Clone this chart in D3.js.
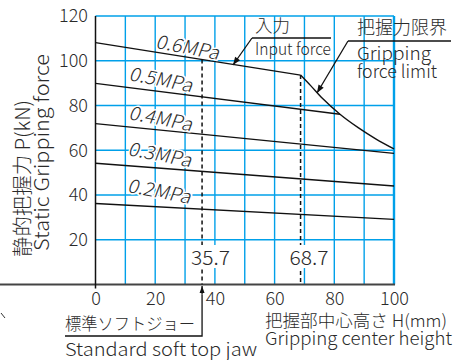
<!DOCTYPE html>
<html><head><meta charset="utf-8">
<script src="https://cdn.jsdelivr.net/npm/d3@7"></script>
<style>
body{margin:0;background:#fff}
svg{display:block}
text{font-family:"Noto Sans CJK JP","Liberation Sans",sans-serif;font-weight:300;fill:#2a2a2a}
</style>
</head><body><svg id="c" width="465" height="360"></svg>
<script>
// ---- data ----
const xTicks=[0,20,40,60,80,100];
const yTicks=[20,40,60,80,100,120];
const gridX=[10,20,30,40,50,60,70,80,90,100];
const gridY=[20,40,60,80,100,120];
const pressureLabels=["0.6MPa","0.5MPa","0.4MPa","0.3MPa","0.2MPa"];
const series06=[[0,108.1],[68.7,93.6]];
const series05=[[0,89.9],[81.9,76.1]];
const series04=[[0,71.9],[100,58.6]];
const series03=[[0,54.2],[100,44.0]];
const series02=[[0,36.2],[100,29.1]];
const limitCurve=[[68.7,93.6],[72,89.0],[76,83.2],[81.9,76.1],[88,70.1],[94,65.0],[100,60.6]];
const markerH=[35.7,68.7];
const markerText=["35.7","68.7"];

// ---- layout ----
const svg=d3.select("#c");
const x=d3.scaleLinear().domain([0,100]).range([95.5,394]);
const y=d3.scaleLinear().domain([0,120]).range([284.5,16]);
const blue="#00a0e9";
const allSeries=[series06,series05,series04,series03,series02];

function valueAt(s,h){
  for(let i=0;i<s.length-1;i++){
    const [a,va]=s[i],[b,vb]=s[i+1];
    if(h>=a&&h<=b) return va+(vb-va)*(h-a)/(b-a);
  }
  return s[s.length-1][1];
}
function arrow(g,x1,y1,x2,y2,len=8,wid=3){
  g.append("line").attr("x1",x1).attr("y1",y1).attr("x2",x2).attr("y2",y2)
    .attr("stroke","#111").attr("stroke-width",1.3);
  const ang=Math.atan2(y2-y1,x2-x1);
  const bx=x2-len*Math.cos(ang), by=y2-len*Math.sin(ang);
  const px=-Math.sin(ang)*wid, py=Math.cos(ang)*wid;
  g.append("path").attr("d",`M${x2},${y2}L${bx+px},${by+py}L${bx-px},${by-py}Z`).attr("fill","#111");
}

// grid
svg.append("g").selectAll("line").data(gridX).join("line")
  .attr("x1",d=>x(d)).attr("x2",d=>x(d)).attr("y1",y(0)).attr("y2",y(120))
  .attr("stroke",blue).attr("stroke-width",d=>d===100?2.4:1.4);
svg.append("g").selectAll("line").data(gridY).join("line")
  .attr("x1",x(0)).attr("x2",x(100)).attr("y1",d=>y(d)).attr("y2",d=>y(d))
  .attr("stroke",blue).attr("stroke-width",1.4);

// axes lines
svg.append("line").attr("x1",0).attr("x2",x(100)+1).attr("y1",y(0)).attr("y2",y(0))
  .attr("stroke","#444").attr("stroke-width",2.2);
svg.append("line").attr("x1",x(0)).attr("x2",x(0)).attr("y1",y(120)).attr("y2",y(0)+4)
  .attr("stroke","#111").attr("stroke-width",1.5);

// tick labels via axes
const ax=svg.append("g").attr("transform",`translate(0,${y(0)})`)
  .call(d3.axisBottom(x).tickValues(xTicks).tickSize(0).tickPadding(8).tickFormat(d3.format("d")));
ax.select(".domain").remove();
ax.selectAll("text").attr("font-size",18).attr("font-family",null).style("fill","#2a2a2a");
const ay=svg.append("g").attr("transform",`translate(${x(0)},0)`)
  .call(d3.axisLeft(y).tickValues(yTicks).tickSize(0).tickPadding(7.5).tickFormat(d3.format("d")));
ay.select(".domain").remove();
ay.selectAll("text").attr("font-size",18).attr("font-family",null).style("fill","#2a2a2a");

// series lines
const line=d3.line().x(d=>x(d[0])).y(d=>y(d[1]));
svg.append("g").selectAll("path").data(allSeries).join("path")
  .attr("d",line).attr("fill","none").attr("stroke","#111").attr("stroke-width",1.4);
svg.append("path").attr("d",d3.line().curve(d3.curveMonotoneX).x(d=>x(d[0])).y(d=>y(d[1]))(limitCurve))
  .attr("fill","none").attr("stroke","#111").attr("stroke-width",1.4);

// marker dashed lines
markerH.forEach((h,i)=>{
  svg.append("line").attr("x1",x(h)).attr("x2",x(h)).attr("y1",y(valueAt(series06,h))).attr("y2",y(0))
    .attr("stroke","#111").attr("stroke-width",1.5).attr("stroke-dasharray","4,3");
});
markerH.forEach((h,i)=>{
  const g=svg.append("g");
  const t=g.append("text").attr("x",x(h)-11).attr("y",265).attr("font-size",20).attr("textLength",39).attr("lengthAdjust","spacingAndGlyphs").text(markerText[i]);
  const bb=t.node().getBBox();
  g.insert("rect","text").attr("x",bb.x-1).attr("y",bb.y+3).attr("width",bb.width+2).attr("height",bb.height-6).attr("fill","#fff");
});

// pressure labels
const labelPos=[[155,47.7],[128.3,80],[128,119],[127.3,155],[126.7,191.7]];
svg.append("g").selectAll("text").data(pressureLabels).join("text")
  .attr("transform",(d,i)=>`translate(${labelPos[i][0]},${labelPos[i][1]}) rotate(11) skewX(-10)`)
  .attr("font-size",19)
  .attr("textLength",64).attr("lengthAdjust","spacingAndGlyphs")
  .attr("stroke","#fff").attr("stroke-width",3).attr("paint-order","stroke")
  .text(d=>d);

// annotations top
const an=svg.append("g");
an.append("text").attr("x",255).attr("y",32).attr("font-size",17).attr("textLength",35).attr("lengthAdjust","spacingAndGlyphs").text("入力");
an.append("line").attr("x1",252).attr("x2",331).attr("y1",38).attr("y2",38).attr("stroke","#111").attr("stroke-width",1.3);
an.append("text").attr("x",255).attr("y",55).attr("font-size",17).attr("textLength",76).attr("lengthAdjust","spacingAndGlyphs").text("Input force");
arrow(an,252,38,233,65);
an.append("text").attr("x",357).attr("y",34).attr("font-size",18).attr("textLength",90).attr("lengthAdjust","spacingAndGlyphs").text("把握力限界");
an.append("line").attr("x1",348).attr("x2",451).attr("y1",41).attr("y2",41).attr("stroke","#111").attr("stroke-width",1.3);
an.append("text").attr("x",357).attr("y",60).attr("font-size",18).attr("textLength",74).attr("lengthAdjust","spacingAndGlyphs").text("Gripping");
an.append("text").attr("x",357).attr("y",78).attr("font-size",18).attr("textLength",80).attr("lengthAdjust","spacingAndGlyphs").text("force limit");
arrow(an,348,41,317,93);

// bottom annotation
an.append("text").attr("x",65).attr("y",330).attr("font-size",17).attr("textLength",130).attr("lengthAdjust","spacingAndGlyphs").text("標準ソフトジョー");
an.append("path").attr("d",`M65,336H${x(35.7)}V${y(0)+10}`).attr("fill","none").attr("stroke","#111").attr("stroke-width",1.3);
arrow(an,x(35.7),y(0)+10,x(35.7),y(0)+1.5,7,2.5);
an.append("text").attr("x",65).attr("y",356).attr("font-size",18).attr("textLength",192).attr("lengthAdjust","spacingAndGlyphs").text("Standard soft top jaw");
an.append("line").attr("x1",1).attr("y1",313).attr("x2",5).attr("y2",318).attr("stroke","#333").attr("stroke-width",1);

// x title
an.append("text").attr("x",265).attr("y",327).attr("font-size",17).attr("textLength",182).attr("lengthAdjust","spacingAndGlyphs").text("把握部中心高さ H(mm)");
an.append("text").attr("x",265).attr("y",345).attr("font-size",18).attr("textLength",187).attr("lengthAdjust","spacingAndGlyphs").text("Gripping center height");

// y title
an.append("text").attr("transform","translate(30,257) rotate(-90)").attr("font-size",20).attr("textLength",157).attr("lengthAdjust","spacingAndGlyphs").text("静的把握力 P(kN)");
an.append("text").attr("transform","translate(49,251) rotate(-90)").attr("font-size",20).attr("textLength",197).attr("lengthAdjust","spacingAndGlyphs").text("Static Gripping force");
</script>
</body></html>
